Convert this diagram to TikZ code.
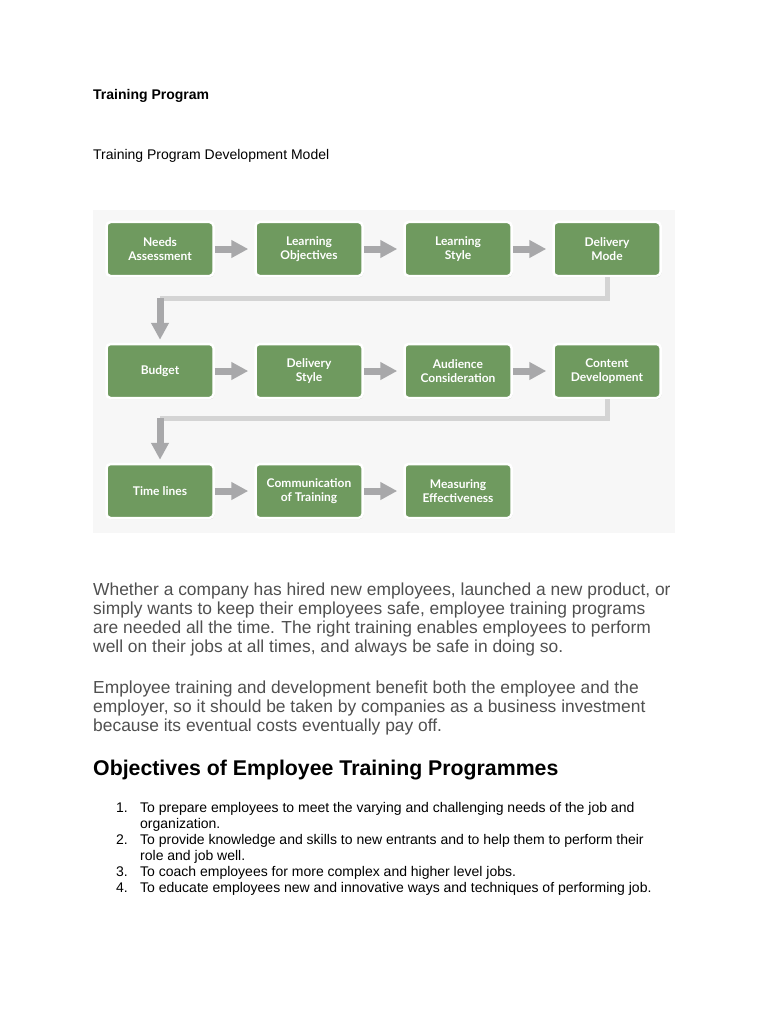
\documentclass[tikz,border=0pt]{standalone}
\usepackage{fontspec}
\setmainfont{Liberation Sans}
\newfontfamily\boxfont{Lato}
\usepackage{tikz}
\usetikzlibrary{arrows.meta, positioning, shadows}

\definecolor{stepgreen}{RGB}{111,154,95}
\definecolor{bodygray}{RGB}{80,80,80}
\definecolor{arrowgray}{RGB}{168,168,170}
\definecolor{linegray}{RGB}{212,212,212}
\definecolor{panelgray}{RGB}{247,247,247}

\begin{document}
\begin{tikzpicture}[
    x=1pt, y=-1pt,
    stepbox/.style={draw=white, line width=2.5pt, fill=stepgreen, rounded corners=4pt,
        minimum width=107pt, minimum height=54pt, align=center, text=white,
        font=\boxfont\bfseries\fontsize{12}{14}\selectfont,
        drop shadow={opacity=0.35, shadow xshift=0.8pt, shadow yshift=-1.2pt}},
    flow/.style={-{Triangle[length=17pt, width=17pt]}, line width=7pt, draw=arrowgray, shorten >=6pt},
    turn/.style={line width=5pt, draw=linegray},
    textline/.style={anchor=base west, inner sep=0pt},
    node distance=39.5pt
]

\useasboundingbox (0,0) rectangle (768,1024);
\fill[white] (0,0) rectangle (768,1024);

% headings above the model
\node[textline, font=\bfseries\fontsize{14}{17}\selectfont] (title) at (93,100) {Training Program};
\node[textline, font=\fontsize{14}{17}\selectfont] (subtitle) at (93,160) {Training Program Development Model};

% the model
\fill[panelgray] (93,210) rectangle (675,533);

\node[stepbox] (na) at (160,249) {Needs\\Assessment};
\node[stepbox, right=of na] (lo) {Learning\\Objectives};
\node[stepbox, right=of lo] (ls) {Learning\\Style};
\node[stepbox, right=of ls] (dm) {Delivery\\Mode};

\node[stepbox] (bu) at (160,371) {Budget};
\node[stepbox, right=of bu] (ds) {Delivery\\Style};
\node[stepbox, right=of ds] (ac) {Audience\\Consideration};
\node[stepbox, right=of ac] (cd) {Content\\Development};

\node[stepbox] (tl) at (160,491) {Time lines};
\node[stepbox, right=of tl] (ct) {Communication\\of Training};
\node[stepbox, right=of ct] (me) {Measuring\\Effectiveness};

\foreach \a/\b in {na/lo, lo/ls, ls/dm, bu/ds, ds/ac, ac/cd, tl/ct, ct/me}
    \draw[flow] (\a.east) -- (\b.west);

% turns between the rows
\path (dm.south) ++(0,21) coordinate (dmturn);
\draw[turn] (dm.south) -- (dmturn) -- (dmturn -| bu.north);
\draw[flow, shorten >=3pt] (dmturn -| bu.north) -- (bu.north);

\path (cd.south) ++(0,19) coordinate (cdturn);
\draw[turn] (cd.south) -- (cdturn) -- (cdturn -| tl.north);
\draw[flow, shorten >=3pt] (cdturn -| tl.north) -- (tl.north);

% body text
\foreach \txt [count=\i] in {
    {Whether a company has hired new employees, launched a new product, or},
    {simply wants to keep their employees safe, employee training programs},
    {are needed all the time. The right training enables employees to perform},
    {well on their jobs at all times, and always be safe in doing so.}}
    \node[textline, text=bodygray, font=\fontsize{17.4}{19}\selectfont] (para1-\i) at (93,576+19*\i) {\txt};

\foreach \txt [count=\i] in {
    {Employee training and development benefit both the employee and the},
    {employer, so it should be taken by companies as a business investment},
    {because its eventual costs eventually pay off.}}
    \node[textline, text=bodygray, font=\fontsize{17.4}{19}\selectfont] (para2-\i) at (93,674+19*\i) {\txt};

\node[textline, font=\bfseries\fontsize{21.3}{25}\selectfont] (objhead) at (93,775.5) {Objectives of Employee Training Programmes};

% objectives list
\foreach \num/\y in {1/812, 2/844, 3/876, 4/892}
    \node[textline, font=\fontsize{14}{16}\selectfont] (num-\num) at (116,\y) {\num.};

\foreach \txt/\y [count=\i] in {
    {To prepare employees to meet the varying and challenging needs of the job and}/812,
    {organization.}/828,
    {To provide knowledge and skills to new entrants and to help them to perform their}/844,
    {role and job well.}/860,
    {To coach employees for more complex and higher level jobs.}/876,
    {To educate employees new and innovative ways and techniques of performing job.}/892}
    \node[textline, font=\fontsize{14}{16}\selectfont] (item-\i) at (140,\y) {\txt};

\end{tikzpicture}
\end{document}
